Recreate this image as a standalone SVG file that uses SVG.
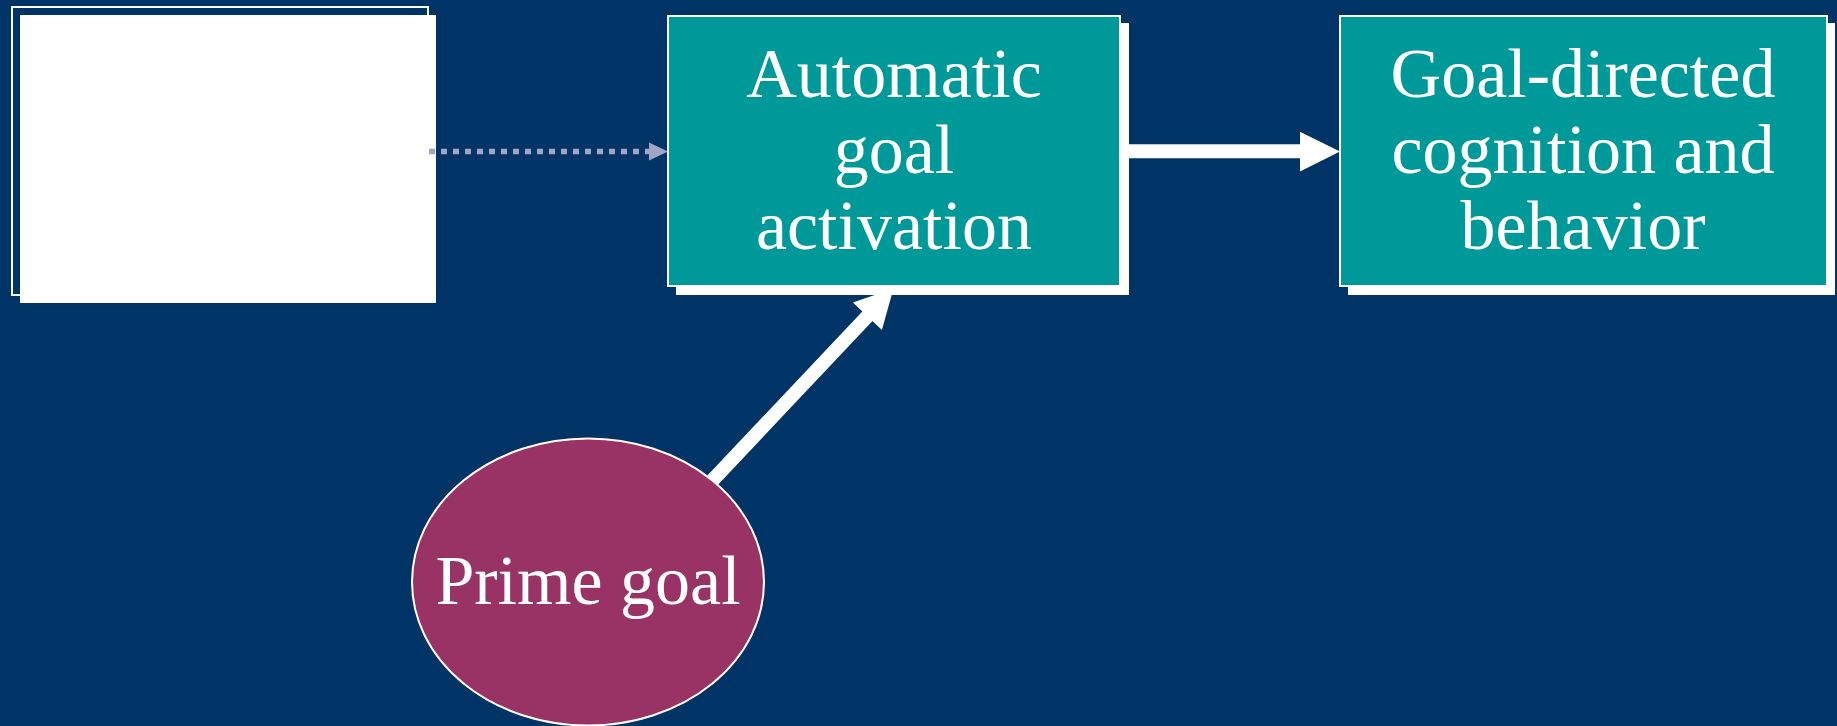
<svg xmlns="http://www.w3.org/2000/svg" width="1837" height="726" viewBox="0 0 1837 726">
  <defs>
    <style>
      .label { font-family: "Liberation Serif", "Times New Roman", serif; font-size: 70px; fill: #ffffff; text-anchor: middle; }
      .shadow { fill: #ffffff; }
      .box { fill: #009999; stroke: #ffffff; stroke-width: 2; }
      .frame { fill: none; stroke: #ffffff; stroke-width: 2; }
      .thick { stroke: #ffffff; stroke-width: 14; fill: none; }
      .dotted { stroke: #A2A6C4; stroke-width: 5.5; stroke-dasharray: 6 6; fill: none; }
    </style>
  </defs>

  <!-- background -->
  <rect x="0" y="0" width="1837" height="726" fill="#003366"/>

  <!-- source node: empty white panel -->
  <g id="node-source">
    <rect class="shadow" x="20" y="15" width="416" height="288"/>
    <rect class="frame" x="12" y="7" width="416" height="288"/>
  </g>

  <!-- connectors -->
  <g id="connectors">
    <g id="edge-source-activation">
      <line class="dotted" x1="429" y1="151.5" x2="650" y2="151.5"/>
      <polygon points="649,142.5 668,151.5 649,160.5" fill="#A2A6C4"/>
    </g>
    <g id="edge-activation-behavior">
      <line class="thick" x1="1125" y1="151.3" x2="1302" y2="151.3"/>
      <polygon points="1300,131.7 1340,151.5 1300,171.5" fill="#ffffff"/>
    </g>
    <g id="edge-prime-activation">
      <line class="thick" stroke-width="13" x1="694.5" y1="499.4" x2="870" y2="313.5"/>
      <polygon points="852.9,302.5 893.5,288.6 881.9,329.9" fill="#ffffff"/>
    </g>
  </g>

  <!-- automatic goal activation -->
  <g id="node-activation">
    <rect class="shadow" x="676" y="23" width="453" height="272"/>
    <rect class="box" x="668" y="16" width="452" height="270"/>
    <text class="label" x="894" y="96.5">Automatic</text>
    <text class="label" x="894" y="172.7">goal</text>
    <text class="label" x="894" y="249">activation</text>
  </g>

  <!-- goal-directed cognition and behavior -->
  <g id="node-behavior">
    <rect class="shadow" x="1348" y="23" width="487" height="272"/>
    <rect class="box" x="1340" y="16" width="487" height="270"/>
    <text class="label" x="1583" y="96.5">Goal-directed</text>
    <text class="label" x="1583" y="172.7">cognition and</text>
    <text class="label" x="1583" y="249">behavior</text>
  </g>

  <!-- prime goal -->
  <g id="node-prime">
    <ellipse cx="588" cy="582" rx="176" ry="143.5" fill="#993366" stroke="#ffffff" stroke-width="2"/>
    <text class="label" x="588" y="604">Prime goal</text>
  </g>
</svg>
